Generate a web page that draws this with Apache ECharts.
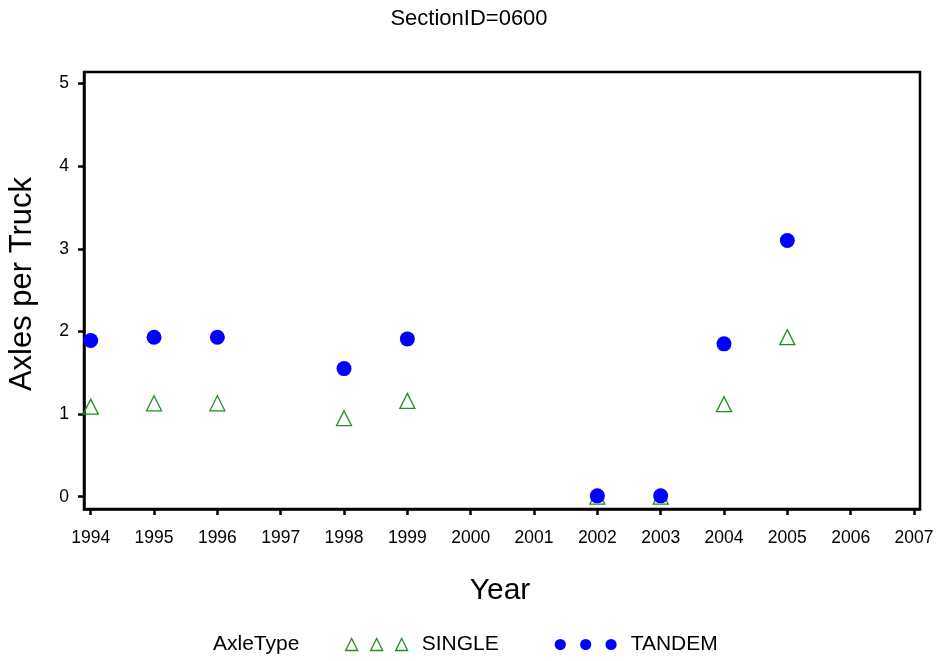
<!DOCTYPE html>
<html>
<head>
<meta charset="utf-8">
<script src="https://cdn.jsdelivr.net/npm/echarts@6/dist/echarts.min.js"></script>
<style>html,body{margin:0;padding:0;background:#fff;}#c{width:938px;height:661px;}</style>
</head>
<body>
<div id="c"></div>
<script>
const years = [1994, 1995, 1996, 1998, 1999, 2002, 2003, 2004, 2005];
const singleVals = [1.09, 1.13, 1.13, 0.95, 1.16, 0.0, 0.0, 1.12, 1.93];
const tandemVals = [1.89, 1.93, 1.93, 1.55, 1.91, 0.01, 0.01, 1.85, 3.10];
const xTicks = [1994,1995,1996,1997,1998,1999,2000,2001,2002,2003,2004,2005,2006,2007];
const yTicks = [0,1,2,3,4,5];
const titleText = 'SectionID=0600';
const xName = 'Year';
const yName = 'Axles per Truck';
const legendTitle = 'AxleType';

const FONT = 'Liberation Sans, Arial, sans-serif';
const chart = echarts.init(document.getElementById('c'), null, {renderer: 'canvas'});
const green = '#1f8f1f';
const blue = '#0000ff';

chart.setOption({
  backgroundColor: '#fff',
  animation: false,
  title: {
    text: titleText, left: 'center', top: 3,
    textStyle: {fontFamily: FONT, fontSize: 22, fontWeight: 'normal', color: '#000'}
  },
  graphic: [
    {type: 'text', x: 213, y: 644,
     style: {text: legendTitle, font: '21px ' + FONT, fill: '#000', textAlign: 'left', textVerticalAlign: 'middle'}},
    {type: 'text', x: 500, y: 591,
     style: {text: xName, font: '30px ' + FONT, fill: '#000', textAlign: 'center', textVerticalAlign: 'middle'}},
    {type: 'text', x: 22.5, y: 284, rotation: Math.PI / 2,
     style: {text: yName, font: '31px ' + FONT, fill: '#000', textAlign: 'center', textVerticalAlign: 'middle'}}
  ],
  legend: {
    left: 340, top: 629, itemGap: 56,
    textStyle: {fontFamily: FONT, fontSize: 21, color: '#000', padding: [0, 0, 0, 9]},
    data: [
      {name: 'SINGLE', icon: 'path://M0,12L6,0L12,12Z M25,12L31,0L37,12Z M50,12L56,0L62,12Z',
       itemStyle: {color: '#fff', borderColor: green, borderWidth: 1.3, opacity: 1}},
      {name: 'TANDEM', icon: 'path://M0,5.5A5.5,5.5,0,1,1,11,5.5A5.5,5.5,0,1,1,0,5.5Z M25,5.5A5.5,5.5,0,1,1,36,5.5A5.5,5.5,0,1,1,25,5.5Z M50,5.5A5.5,5.5,0,1,1,61,5.5A5.5,5.5,0,1,1,50,5.5Z',
       itemStyle: {color: blue, opacity: 1}}
    ],
    itemWidth: 62, itemHeight: 12
  },
  grid: {
    left: 84, right: 18, top: 72, bottom: 152,
    show: true, borderColor: '#000', borderWidth: 2.5, backgroundColor: 'transparent'
  },
  xAxis: {
    type: 'value', min: 1993.894, max: 2007.095,
    axisLine: {show: true, onZero: false, lineStyle: {color: '#000', width: 2.5}},
    axisTick: {show: true, customValues: xTicks, length: 6, lineStyle: {color: '#000', width: 2.5}},
    axisLabel: {customValues: xTicks, fontFamily: FONT, fontSize: 17.5, color: '#000', margin: 20,
                formatter: v => String(Math.round(v))},
    splitLine: {show: false}
  },
  yAxis: {
    type: 'value', min: -0.149, max: 5.14,
    axisLine: {show: true, onZero: false, lineStyle: {color: '#000', width: 2.5}},
    axisTick: {show: true, customValues: yTicks, length: 6, lineStyle: {color: '#000', width: 2.5}},
    axisLabel: {customValues: yTicks, fontFamily: FONT, fontSize: 17.5, color: '#000', margin: 15,
                formatter: v => String(Math.round(v))},
    splitLine: {show: false}
  },
  series: [
    {
      name: 'SINGLE', type: 'scatter', symbol: 'triangle', symbolSize: 15,
      itemStyle: {color: 'rgba(255,255,255,0)', borderColor: green, borderWidth: 1.3, opacity: 1},
      data: years.map((y, i) => [y, singleVals[i]]), z: 2
    },
    {
      name: 'TANDEM', type: 'scatter', symbol: 'circle', symbolSize: 15,
      itemStyle: {color: blue, opacity: 1},
      data: years.map((y, i) => [y, tandemVals[i]]), z: 3
    }
  ]
});
</script>
</body>
</html>
